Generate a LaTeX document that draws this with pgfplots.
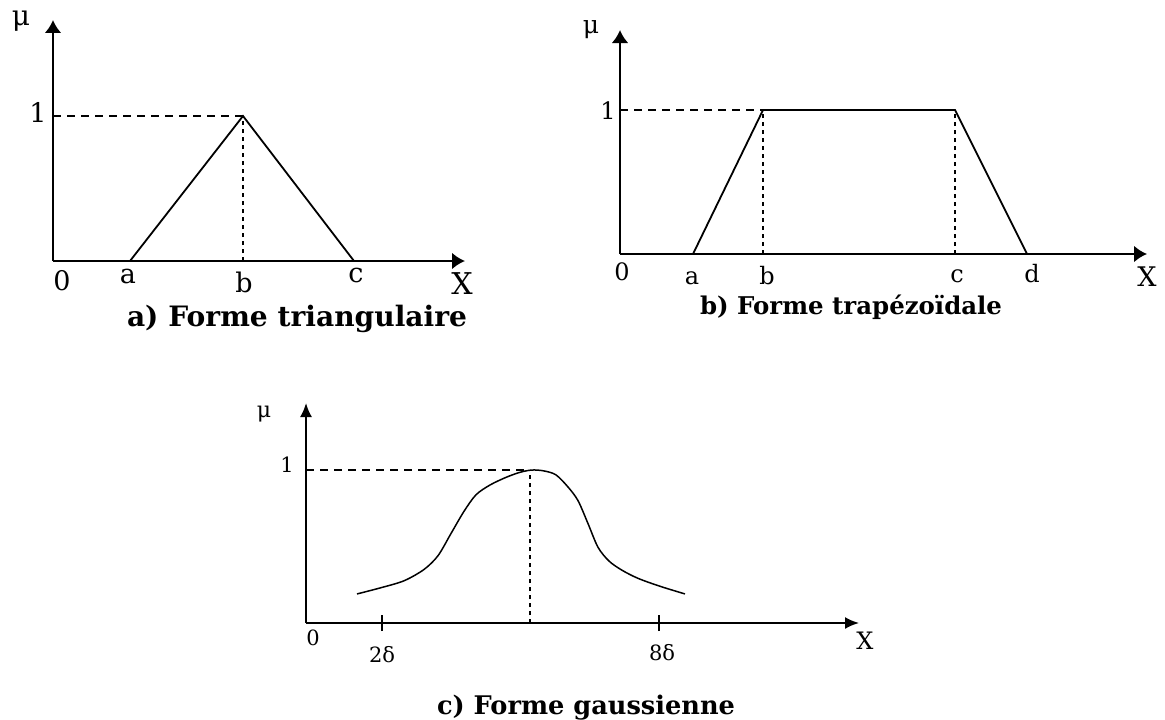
\documentclass[border=0pt]{standalone}
\usepackage{fontspec}
\setmainfont{DejaVu Serif}
\usepackage{pgfplots}
\pgfplotsset{compat=1.18}
\usetikzlibrary{arrows.meta}

% Membership-function shapes: triangle, trapezoid, gaussian
\pgfplotsset{
  mf/.style={
    scale only axis, axis lines=left, xmin=0, ymin=0, clip=false,
    xtick=\empty, ytick=\empty,
    axis line style={line width=1.4pt, -{Latex[length=6.5pt,width=8.5pt]}},
  },
  curve/.style={black, line width=0.9pt, no markers},
  guideh/.style={black, line width=0.7pt, dash pattern=on 4pt off 3pt, no markers},
  guidev/.style={black, line width=0.7pt, dash pattern=on 2pt off 2pt, no markers},
}
\newcommand{\lab}[1]{\fontsize{#1}{#1}\selectfont}

\begin{document}
\begin{tikzpicture}[x=1pt,y=1pt]
\path[use as bounding box] (0,0) rectangle (582.5,359.5);

% a) triangular
\begin{axis}[mf, at={(26.5pt,229pt)}, anchor=south west,
  width=206pt, height=120.5pt, xmax=412, ymax=1.662]
  \addplot[guideh] coordinates {(0,1) (190,1)};
  \addplot[guidev] coordinates {(190,0) (190,1)};
  \addplot[curve] coordinates {(77,0) (190,1) (301,0)};
  \node[anchor=base] at (axis cs:9,-0.200) {\lab{13.5}0};
  \node[anchor=base] at (axis cs:75,-0.152) {\lab{13.5}a};
  \node[anchor=base] at (axis cs:191,-0.214) {\lab{13.5}b};
  \node[anchor=base] at (axis cs:303,-0.145) {\lab{13.5}c};
  \node[anchor=base] at (axis cs:409,-0.234) {\lab{15}X};
  \node[anchor=base] at (axis cs:-15,0.952) {\lab{13.5}1};
  \node[anchor=base] at (axis cs:-32,1.621) {\lab{14}μ};
  \node[anchor=base] at (axis cs:244,-0.455) {\resizebox{170pt}{!}{\bfseries a) Forme triangulaire}};
\end{axis}

% b) trapezoidal
\begin{axis}[mf, at={(310pt,232.5pt)}, anchor=south west,
  width=263.5pt, height=112pt, xmax=527, ymax=1.556]
  \addplot[guideh] coordinates {(0,1) (143,1)};
  \addplot[guidev] coordinates {(143,0) (143,1)};
  \addplot[guidev] coordinates {(335,0) (335,1)};
  \addplot[curve] coordinates {(73,0) (143,1) (335,1) (407,0)};
  \node[anchor=base] at (axis cs:2,-0.181) {\lab{12}0};
  \node[anchor=base] at (axis cs:72,-0.215) {\lab{12}a};
  \node[anchor=base] at (axis cs:147,-0.215) {\lab{12}b};
  \node[anchor=base] at (axis cs:337,-0.201) {\lab{12}c};
  \node[anchor=base] at (axis cs:412,-0.201) {\lab{12}d};
  \node[anchor=base] at (axis cs:527,-0.229) {\lab{13.5}X};
  \node[anchor=base] at (axis cs:-12,0.931) {\lab{12}1};
  \node[anchor=base] at (axis cs:-29,1.535) {\lab{12.5}μ};
  \node[anchor=base] at (axis cs:231,-0.417) {\resizebox{151pt}{!}{\bfseries b) Forme trapézoïdale}};
\end{axis}

% c) gaussian
\begin{axis}[mf, at={(153pt,48pt)}, anchor=south west,
  width=276.5pt, height=110pt, xmax=553, ymax=1.438,
  axis line style={line width=1.0pt, -{Latex[length=7pt,width=6pt]}},
  xtick={76,353}, xticklabels={,,}, tick align=center,
  major tick length=8pt, tick style={black, line width=0.8pt}]
  \addplot[guideh] coordinates {(0,1) (224,1)};
  \addplot[guidev] coordinates {(224,0) (224,1)};
  \addplot[curve, line width=0.75pt, smooth] coordinates {
    (51,0.190) (74,0.229) (98,0.276) (118,0.350) (132,0.440) (145,0.585)
    (158,0.730) (170,0.838) (184,0.902) (200,0.952) (214,0.985) (226,1.000)
    (238,0.994) (250,0.968) (262,0.889) (272,0.800) (282,0.650) (292,0.495)
    (303,0.405) (316,0.345) (332,0.292) (354,0.240) (379,0.190)};
  \node[anchor=base] at (axis cs:7,-0.144) {\lab{10.5}0};
  \node[anchor=base] at (axis cs:76,-0.255) {\lab{10.5}2δ};
  \node[anchor=base] at (axis cs:356,-0.242) {\lab{10.5}8δ};
  \node[anchor=base] at (axis cs:559,-0.176) {\lab{12}X};
  \node[anchor=base] at (axis cs:-19,0.987) {\lab{10.5}1};
  \node[anchor=base] at (axis cs:-42,1.34) {\lab{11}μ};
  \node[anchor=base] at (axis cs:280,-0.601) {\resizebox{149pt}{!}{\bfseries c) Forme gaussienne}};
\end{axis}
\end{tikzpicture}
\end{document}
